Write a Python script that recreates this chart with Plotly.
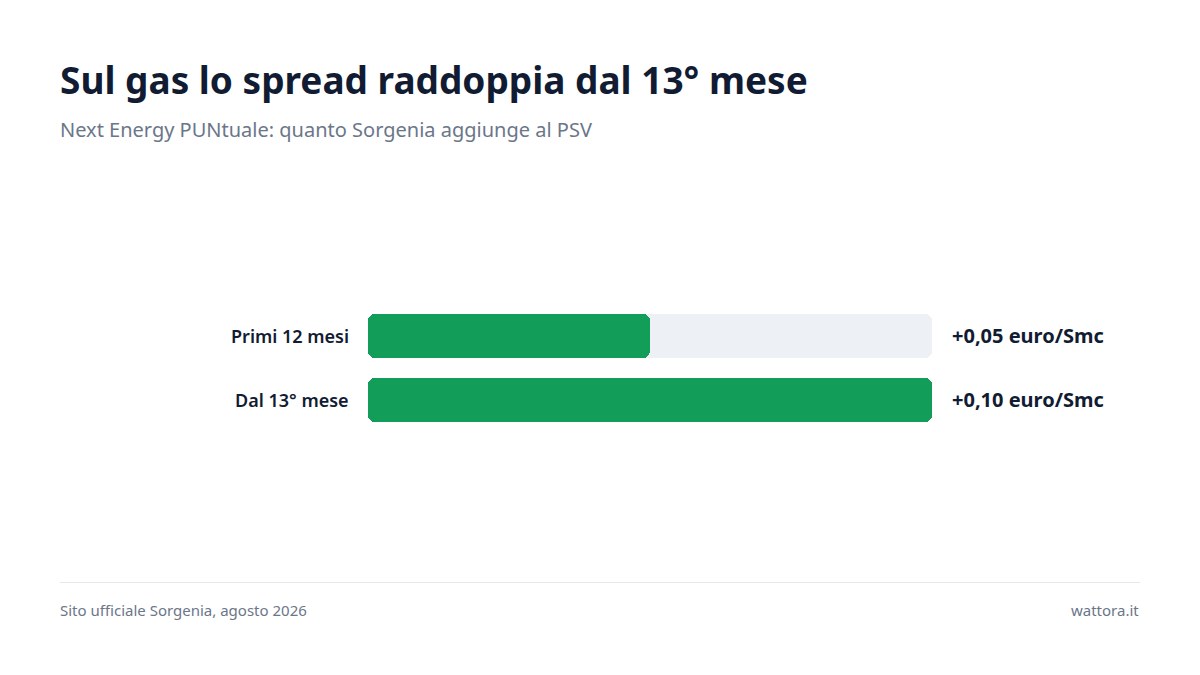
import plotly.graph_objects as go

categories = ["Primi 12 mesi", "Dal 13° mese"]
values = [0.05, 0.10]
value_labels = ["+0,05 euro/Smc", "+0,10 euro/Smc"]
scale_max = 0.10

title = "Sul gas lo spread raddoppia dal 13° mese"
subtitle = "Next Energy PUNtuale: quanto Sorgenia aggiunge al PSV"
source = "Sito ufficiale Sorgenia, agosto 2026"
brand = "wattora.it"

W, H = 1200, 675
FONT = "Noto Sans"
GREEN = "#129d58"
TRACK = "#edf0f5"
DARK = "#111c33"
GREY = "#6b7689"
BAR_W = 0.69
RAD = 7

def px_x(x):
    return x / W

def px_y(y):
    return 1 - y / H

fig = go.Figure()

def rounded_bar(ys, xs, color, hover):
    # two halves from the midpoint so both ends get rounded corners,
    # plus a square middle piece to hide the join
    halves = [x / 2 for x in xs]
    for sign in (1, -1):
        fig.add_trace(go.Bar(
            y=ys, x=[sign * h for h in halves], base=halves, orientation="h",
            marker=dict(color=color, cornerradius=RAD, line=dict(width=0)), width=BAR_W,
            hoverinfo="skip", showlegend=False,
        ))
    fig.add_trace(go.Bar(
        y=ys, x=halves, base=[x / 4 for x in xs], orientation="h",
        marker=dict(color=color, line=dict(width=0)), width=BAR_W,
        customdata=xs, hovertemplate="%{y}: %{customdata}<extra></extra>" if hover else None,
        hoverinfo=None if hover else "skip", showlegend=False,
    ))

rounded_bar(categories, [scale_max] * len(categories), TRACK, False)
rounded_bar(categories, values, GREEN, True)

annotations = []
for c, lab in zip(categories, value_labels):
    annotations.append(dict(
        x=scale_max, y=c, xref="x", yref="y", text=lab, showarrow=False,
        xanchor="left", xshift=18, font=dict(family=FONT, size=20, color=DARK, weight="bold"),
    ))
    annotations.append(dict(
        x=px_x(351), y=c, xref="paper", yref="y", text=c, showarrow=False,
        xanchor="right", font=dict(family=FONT, size=18, color=DARK, weight=600),
    ))

annotations += [
    dict(x=px_x(58), y=px_y(80), xref="paper", yref="paper", text=title, showarrow=False,
         xanchor="left", yanchor="middle", font=dict(family=FONT, size=37, color=DARK, weight="bold")),
    dict(x=px_x(58), y=px_y(129), xref="paper", yref="paper", text=subtitle, showarrow=False,
         xanchor="left", yanchor="middle", font=dict(family=FONT, size=20, color=GREY)),
    dict(x=px_x(58), y=px_y(610), xref="paper", yref="paper", text=source, showarrow=False,
         xanchor="left", yanchor="middle", font=dict(family=FONT, size=15, color=GREY)),
    dict(x=px_x(1141), y=px_y(610), xref="paper", yref="paper", text=brand, showarrow=False,
         xanchor="right", yanchor="middle", font=dict(family=FONT, size=15, color=GREY)),
]

fig.update_layout(
    width=W, height=H, autosize=False,
    margin=dict(l=0, r=0, t=0, b=0),
    paper_bgcolor="white", plot_bgcolor="white",
    barmode="overlay", bargap=0,
    xaxis=dict(domain=[px_x(368), px_x(932)], range=[0, scale_max], visible=False, fixedrange=True),
    yaxis=dict(domain=[px_y(432), px_y(304)], range=[len(categories) - 0.5, -0.5],
               visible=False, fixedrange=True, type="category"),
    annotations=annotations,
    shapes=[dict(type="line", xref="paper", yref="paper", x0=px_x(60), x1=px_x(1140),
                 y0=px_y(582.5), y1=px_y(582.5), line=dict(color="#e6e8ec", width=1))],
    font=dict(family=FONT),
)

fig.write_html(
    "out.html",
    config={"displayModeBar": False},
    post_script="document.body.style.margin='0';document.body.style.overflow='hidden';",
)
